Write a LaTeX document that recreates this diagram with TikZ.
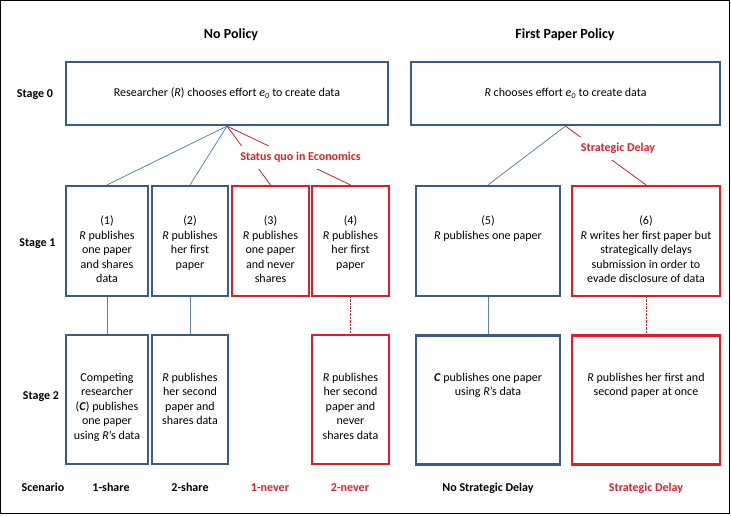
\documentclass[tikz,border=0pt]{standalone}
\usepackage{fontspec}
\setmainfont{Carlito}
\definecolor{boxblue}{HTML}{3A5B86}
\definecolor{boxred}{HTML}{DC1F26}
\definecolor{lineblue}{HTML}{5B82B0}
\definecolor{linered}{HTML}{C0282D}
\definecolor{txtred}{HTML}{DC2228}
\begin{document}
\begin{tikzpicture}[x=1pt,y=-1pt,
  bluebox/.style={draw=boxblue,line width=2.2pt,inner sep=0pt,fill=none},
  redbox/.style={draw=boxred,line width=2.2pt,inner sep=0pt,fill=none},
  boxtxt/.style={font=\fontsize{12}{14.5}\selectfont,align=center,inner sep=0pt,anchor=north},
  blueline/.style={draw=lineblue,line width=0.8pt},
  redline/.style={draw=linered,line width=0.8pt},
  reddot/.style={draw=linered,line width=0.8pt,dash pattern=on 0.8pt off 0.6pt},
  lab/.style={font=\fontsize{12}{14.5}\selectfont\bfseries,inner sep=0pt,text height=9pt,text depth=3pt},
  head/.style={font=\fontsize{14}{16}\selectfont\bfseries,inner sep=0pt},
  redlab/.style={lab,text=txtred},
  cutlab/.style={font=\fontsize{12}{14.5}\selectfont\bfseries,text=txtred,fill=white,inner xsep=2pt,inner ysep=0pt,minimum height=23pt}
]
\useasboundingbox (0,0) rectangle (731,515);
\draw[line width=1.3pt] (0.8,0.8) rectangle (729.3,513.3);

% headers
\node[head] (h1) at (231,34.5) {No Policy};
\node[head] (h2) at (565,34.5) {First Paper Policy};

% stage labels
\node[lab] (s0) at (35,94) {Stage 0};
\node[lab] (s1) at (37.5,243) {Stage 1};
\node[lab] (s2) at (41,396) {Stage 2};
\node[lab] (s3) at (43,488) {Scenario};

% stage 0 boxes
\node[bluebox,minimum width=322pt,minimum height=63pt,font=\fontsize{12}{14.5}\selectfont] (a1) at (227,93.5)
  {Researcher (\textit{R}) chooses effort \textit{e\textsubscript{0}} to create data};
\node[bluebox,minimum width=309pt,minimum height=63pt,font=\fontsize{12}{14.5}\selectfont] (a2) at (565.5,93.5)
  {\textit{R} chooses effort \textit{e\textsubscript{0}} to create data};

% stage 1 boxes
\node[bluebox,minimum width=82pt,minimum height=110pt] (b1) at (107,241) {};
\node[bluebox,minimum width=76pt,minimum height=110pt] (b2) at (190,241) {};
\node[redbox,minimum width=77pt,minimum height=110pt] (b3) at (270.5,241) {};
\node[redbox,minimum width=77pt,minimum height=110pt] (b4) at (350.5,241) {};
\node[bluebox,minimum width=144pt,minimum height=110pt] (b5) at (488,241) {};
\node[redbox,minimum width=148pt,minimum height=110pt] (b6) at (646,241) {};

% stage 2 boxes
\node[bluebox,minimum width=82pt,minimum height=129pt] (c1) at (107,399.5) {};
\node[bluebox,minimum width=76pt,minimum height=129pt] (c2) at (190,399.5) {};
\node[redbox,minimum width=77pt,minimum height=129pt] (c4) at (350.5,399.5) {};
\node[bluebox,minimum width=144pt,minimum height=129pt] (c5) at (488,400) {};
\node[redbox,minimum width=148pt,minimum height=129pt] (c6) at (646,400) {};

% connectors
\draw[blueline] (a1.south) -- (b1.north);
\draw[blueline] (a1.south) -- (b2.north);
\draw[redline] (a1.south) -- (b3.north);
\draw[redline] (a1.south) -- (b4.north);
\draw[blueline] (a2.south) -- (b5.north);
\draw[redline] (a2.south) -- (b6.north);
\draw[blueline] (b1.south) -- (c1.north);
\draw[blueline] (b2.south) -- (c2.north);
\draw[reddot] (b4.south) -- (c4.north);
\draw[blueline] (b5.south) -- (c5.north);
\draw[reddot] (b6.south) -- (c6.north);

% labels on connectors
\node[cutlab] (sq) at (300.5,157.5) {Status quo in Economics};
\node[cutlab] (sd) at (618,148.5) {Strategic Delay};

% stage 1 texts
\node[boxtxt] (t1) at (107,214.5) {\strut(1)\\\textit{R} publishes\\one paper\\and shares\\data};
\node[boxtxt] (t2) at (190,214.5) {\strut(2)\\\textit{R} publishes\\her first\\paper};
\node[boxtxt] (t3) at (270.5,214.5) {\strut(3)\\\textit{R} publishes\\one paper\\and never\\shares};
\node[boxtxt] (t4) at (350.5,214.5) {\strut(4)\\\textit{R} publishes\\her first\\paper};
\node[boxtxt] (t5) at (488,214.5) {\strut(5)\\\textit{R} publishes one paper};
\node[boxtxt] (t6) at (646,214.5) {\strut(6)\\\textit{R} writes her first paper but\\strategically delays\\submission in order to\\evade disclosure of data};

% stage 2 texts
\node[boxtxt] (u1) at (107,371) {\strut Competing\\researcher\\(\textbf{\textit{C}}) publishes\\one paper\\using \textit{R}’s data};
\node[boxtxt] (u2) at (190,371) {\strut\textit{R} publishes\\her second\\paper and\\shares data};
\node[boxtxt] (u4) at (350.5,371) {\strut\textit{R} publishes\\her second\\paper and\\never\\shares data};
\node[boxtxt] (u5) at (488,371) {\strut\textbf{\textit{C}} publishes one paper\\using \textit{R}’s data};
\node[boxtxt] (u6) at (646,371) {\strut\textit{R} publishes her first and\\second paper at once};

% scenarios
\node[lab] (z1) at (111,488) {1-share};
\node[lab] (z2) at (190,488) {2-share};
\node[redlab] (z3) at (270,488) {1-never};
\node[redlab] (z4) at (350,488) {2-never};
\node[lab] (z5) at (488,488) {No Strategic Delay};
\node[redlab] (z6) at (646,488) {Strategic Delay};
\end{tikzpicture}
\end{document}
